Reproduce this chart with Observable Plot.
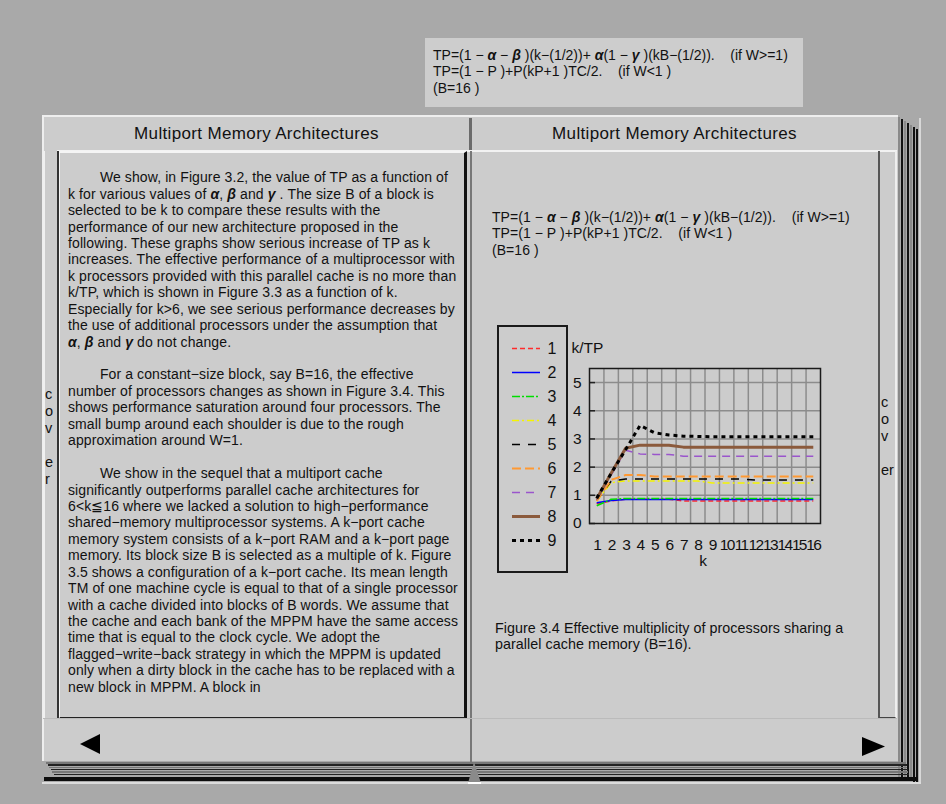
<!DOCTYPE html>
<html><head><meta charset="utf-8">
<script src="https://cdn.jsdelivr.net/npm/d3@7"></script>
<script src="https://cdn.jsdelivr.net/npm/@observablehq/plot@0.6"></script>
<style>
html,body{margin:0;padding:0;background:#a9a9a9;}
#root{position:relative;width:946px;height:804px;overflow:hidden;font-family:"Liberation Sans",Arial,sans-serif;color:#111;}
.a{position:absolute;box-sizing:border-box;}
.txt{white-space:pre;}
.txt > div{white-space:pre;height:var(--lh);line-height:var(--lh);}
.g{font-weight:bold;font-style:italic;}
#chart g[aria-label="x-axis tick label"] text{letter-spacing:-1.7px;}
</style></head>
<body><div id="root">
  <!-- top formula box -->
  <div class="a" style="left:425px;top:38px;width:378px;height:69px;background:#cdcdcd;"></div>
  <div class="a txt" id="f1" style="left:433px;top:46.5px;--lh:16.7px;font-size:14px;"></div>

  <!-- book base -->
  <div class="a" style="left:42px;top:115px;width:856px;height:646px;background:#cccccc;border-top:2px solid #eeeeee;border-left:2px solid #eeeeee;"></div>
  <div id="rstack"></div>
  <!-- headers -->
  <div class="a" style="left:43px;top:117px;width:427px;height:34px;text-align:center;line-height:33px;font-size:17px;letter-spacing:0.35px;">Multiport Memory Architectures</div>
  <div class="a" style="left:472px;top:117px;width:405px;height:34px;text-align:center;line-height:33px;font-size:17px;letter-spacing:0.35px;">Multiport Memory Architectures</div>
  <div class="a" style="left:469px;top:118px;width:3px;height:33px;background:#6b6b6b;"></div>
  <div class="a" style="left:57px;top:150px;width:840px;height:2px;background:#f2f2f2;"></div>
  <!-- left cover tab -->
  <div class="a" style="left:43px;top:151px;width:16px;height:568px;border-left:2px solid #f0f0f0;border-right:2px solid #333;"></div>
  <div class="a txt" id="coverL" style="left:45px;top:386px;width:12px;font-size:14.5px;--lh:17px;"></div>
  <!-- left text box -->
  <div class="a" style="left:59px;top:151px;width:408px;height:568px;border-top:2px solid #f4f4f4;border-left:1px solid #f4f4f4;border-right:3px solid #111;border-bottom:2px solid #222;"></div>
  <div class="a txt" id="lefttext" style="left:68px;top:169.2px;--lh:16.45px;font-size:14px;letter-spacing:0.1px;"></div>
  <!-- spine -->
  <div class="a" style="left:470px;top:151px;width:2px;height:612px;background:#777;"></div>
  <!-- right page -->
  <div class="a txt" id="f2" style="left:492px;top:208.5px;--lh:16.7px;font-size:14px;letter-spacing:0.05px;"></div>
  <div class="a" style="left:878px;top:151px;width:19px;height:568px;border-left:2px solid #555;border-right:2px solid #eeeeee;border-bottom:2px solid #444;"></div>
  <div class="a txt" id="coverR" style="left:881px;top:394px;width:16px;font-size:14.5px;--lh:17px;"></div>
  <!-- legend box -->
  <div class="a" style="left:497px;top:325px;width:71px;height:248px;border:2px solid #1a1a1a;"></div>
  <div class="a" id="legend" style="left:497px;top:325px;"></div>
  <div class="a" id="chart" style="left:560px;top:335px;"></div>
  <div class="a txt" id="caption" style="left:495px;top:619.5px;--lh:16.7px;font-size:14.3px;letter-spacing:0.05px;"></div>
  <!-- bottom nav -->
  <div class="a" style="left:43px;top:718px;width:854px;height:1px;background:#bbb;"></div>
  <svg class="a" style="left:0;top:0;" width="946" height="804">
    <polygon points="80,744 100,734 100,754" fill="#000"/>
    <polygon points="862,737 862,756 885,746.5" fill="#000"/>
    <polygon points="474,762 468,783 481,783" fill="#8a8a8a"/>
    <line x1="468" y1="783" x2="481" y2="783" stroke="#fff" stroke-width="2"/>
  </svg>
</div>
<script>
// ---------------- data ----------------
const kValues = [1,2,3,4,5,6,7,8,9,10,11,12,13,14,15,16];
const yTicks = [0,1,2,3,4,5];
const seriesNames = ["1","2","3","4","5","6","7","8","9"];
const seriesColors = ["#ff2b2b","#0000ff","#00dd00","#f4f400","#000000","#ff9933","#9a55cc","#8b5a3c","#000000"];
const seriesDash = ["5,3","none","8,2,2,2","7,3,2,3","8,8","9,4","8,6","none","4,4"];
const seriesWidth = [1.5,1.5,1.5,1.5,1.5,2,1.5,3,3];
const s1 = [0.70,0.80,0.86,0.86,0.86,0.86,0.80,0.80,0.80,0.80,0.80,0.80,0.80,0.80,0.80,0.80];
const s2 = [0.74,0.82,0.85,0.85,0.85,0.85,0.85,0.85,0.85,0.85,0.85,0.85,0.85,0.85,0.85,0.85];
const s3 = [0.63,0.86,0.89,0.89,0.89,0.89,0.89,0.89,0.89,0.89,0.89,0.89,0.89,0.89,0.89,0.89];
const s4 = [0.80,1.45,1.51,1.51,1.51,1.51,1.51,1.51,1.44,1.44,1.44,1.44,1.44,1.44,1.44,1.44];
const s5 = [0.82,1.50,1.58,1.58,1.58,1.58,1.58,1.58,1.58,1.58,1.58,1.54,1.54,1.54,1.54,1.54];
const s6 = [0.80,1.55,1.72,1.72,1.67,1.67,1.67,1.67,1.67,1.67,1.67,1.67,1.67,1.67,1.67,1.67];
const s7 = [0.86,1.72,2.60,2.47,2.45,2.45,2.39,2.39,2.39,2.39,2.39,2.39,2.39,2.39,2.39,2.39];
const s8 = [0.88,1.78,2.67,2.78,2.78,2.78,2.71,2.71,2.71,2.71,2.71,2.71,2.71,2.71,2.71,2.71];
const s9 = [0.90,1.78,2.62,3.48,3.22,3.14,3.10,3.09,3.08,3.08,3.08,3.08,3.08,3.08,3.08,3.08];
const seriesValues = [s1,s2,s3,s4,s5,s6,s7,s8,s9];

const A = '<span class="g">α</span>', B = '<span class="g">β</span>', G = '<span class="g">γ</span>';
const formulaLines = [
  `TP=(1 − ${A} − ${B} )(k−(1/2))+ ${A}(1 − ${G} )(kB−(1/2)).    (if W&gt;=1)`,
  'TP=(1 − P )+P(kP+1 )TC/2.    (if W&lt;1 )',
  '(B=16 )'
];
const captionLines = [
  'Figure 3.4 Effective multiplicity of processors sharing a',
  'parallel cache memory (B=16).'
];
const coverLeft = ['c','o','v','','e','r'];
const coverRight = ['c','o','v','','er'];
const leftLines = [
  '        We show, in Figure 3.2, the value of TP as a function of',
  `k for various values of ${A}, ${B} and ${G} . The size B of a block is`,
  'selected to be k to compare these results with the',
  'performance of our new architecture proposed in the',
  'following. These graphs show serious increase of TP as k',
  'increases. The effective performance of a multiprocessor with',
  'k processors provided with this parallel cache is no more than',
  'k/TP, which is shown in Figure 3.3 as a function of k.',
  'Especially for k&gt;6, we see serious performance decreases by',
  'the use of additional processors under the assumption that',
  `${A}, ${B} and ${G} do not change.`,
  '',
  '        For a constant−size block, say B=16, the effective',
  'number of processors changes as shown in Figure 3.4. This',
  'shows performance saturation around four processors. The',
  'small bump around each shoulder is due to the rough',
  'approximation around W=1.',
  '',
  '        We show in the sequel that a multiport cache',
  'significantly outperforms parallel cache architectures for',
  '6&lt;k≦16 where we lacked a solution to high−performance',
  'shared−memory multiprocessor systems. A k−port cache',
  'memory system consists of a k−port RAM and a k−port page',
  'memory. Its block size B is selected as a multiple of k. Figure',
  '3.5 shows a configuration of a k−port cache. Its mean length',
  'TM of one machine cycle is equal to that of a single processor',
  'with a cache divided into blocks of B words. We assume that',
  'the cache and each bank of the MPPM have the same access',
  'time that is equal to the clock cycle. We adopt the',
  'flagged−write−back strategy in which the MPPM is updated',
  'only when a dirty block in the cache has to be replaced with a',
  'new block in MPPM. A block in'
];
function fillLines(id, lines) {
  document.getElementById(id).innerHTML = lines.map(l => `<div>${l}</div>`).join("");
}
fillLines("f1", formulaLines);
fillLines("f2", formulaLines);
fillLines("lefttext", leftLines);
fillLines("caption", captionLines);
fillLines("coverL", coverLeft);
fillLines("coverR", coverRight);

// stacked page edges (decoration)
(function(){
  let h = "";
  const cols = ["#8a8a8a","#111","#8a8a8a","#111","#8a8a8a","#111","#111"];
  for (let i = 0; i < 7; i++) {
    h += `<div class="a" style="left:${898+i*3}px;top:${117+i*2}px;width:2px;height:${660-i*1}px;background:${cols[i]}"></div>`;
  }
  h += `<div class="a" style="left:919px;top:118px;width:2px;height:666px;background:#d8d8d8"></div>`;
  for (let i = 0; i < 6; i++) {
    h += `<div class="a" style="left:${46+i*1.5}px;top:${762+i*2.3}px;width:${860-i*1}px;height:1.5px;background:${i%2?"#222":"#777"}"></div>`;
  }
  h += `<div class="a" style="left:44px;top:777px;width:874px;height:4px;background:#0d0d0d"></div>`;
  h += `<div class="a" style="left:42px;top:782px;width:879px;height:2px;background:#dcdcdc"></div>`;
  document.getElementById("rstack").innerHTML = h;
})();

// ---------------- chart ----------------
const rows = [];
seriesValues.forEach((vals, i) => vals.forEach((v, j) => rows.push({series: seriesNames[i], k: kValues[j], v})));
const gridX = kValues.slice(0, -1).map(k => k + 0.5);

const chart = Plot.plot({
  width: 275, height: 240,
  marginLeft: 29, marginTop: 33, marginRight: 15, marginBottom: 52,
  style: {background: "transparent", fontFamily: "Liberation Sans, Arial, sans-serif", fontSize: "15.5px", color: "#111"},
  x: {domain: [0.5, 16.5], ticks: kValues, tickSize: 0, tickPadding: 15, label: null, tickFormat: d => String(d)},
  y: {domain: [0, 5.5], ticks: yTicks, tickSize: 0, tickPadding: 8, label: null, tickFormat: d => String(d)},
  marks: [
    Plot.ruleY(yTicks.filter(d => d > 0), {stroke: "#8c8c8c", strokeWidth: 1.5}),
    Plot.ruleX(gridX, {stroke: "#8c8c8c", strokeWidth: 1.5}),
    Plot.tickY(yTicks, {y: d => d, insetRight: 225, stroke: "#222", strokeWidth: 1.5}),
    ...seriesNames.map((name, i) => Plot.line(rows.filter(r => r.series === name), {
      x: "k", y: "v", stroke: seriesColors[i], strokeWidth: seriesWidth[i],
      strokeDasharray: seriesDash[i], strokeLinecap: "butt"
    })),
    Plot.frame({stroke: "#1a1a1a", strokeWidth: 1.5}),
    Plot.text(["k/TP"], {text: d => d, frameAnchor: "top-left", dx: -18, dy: -27, textAnchor: "start"}),
    Plot.text(["k"], {text: d => d, frameAnchor: "bottom", dx: -2, dy: 42})
  ]
});
document.getElementById("chart").appendChild(chart);

const legend = Plot.plot({
  width: 71, height: 248,
  marginTop: 20, marginBottom: 31, marginLeft: 0, marginRight: 0,
  style: {background: "transparent", fontFamily: "Liberation Sans, Arial, sans-serif", fontSize: "16px", color: "#111"},
  y: {type: "point", domain: seriesNames, axis: null, padding: 0},
  marks: [
    ...seriesNames.map((name, i) => Plot.tickY([name], {
      y: d => d, stroke: seriesColors[i], strokeWidth: seriesWidth[i],
      strokeDasharray: seriesDash[i], insetLeft: 15, insetRight: 28, strokeLinecap: "butt"
    })),
    Plot.text(seriesNames, {y: d => d, text: d => d, frameAnchor: "left", dx: 50, textAnchor: "start"})
  ]
});
document.getElementById("legend").appendChild(legend);
</script>
</body></html>
